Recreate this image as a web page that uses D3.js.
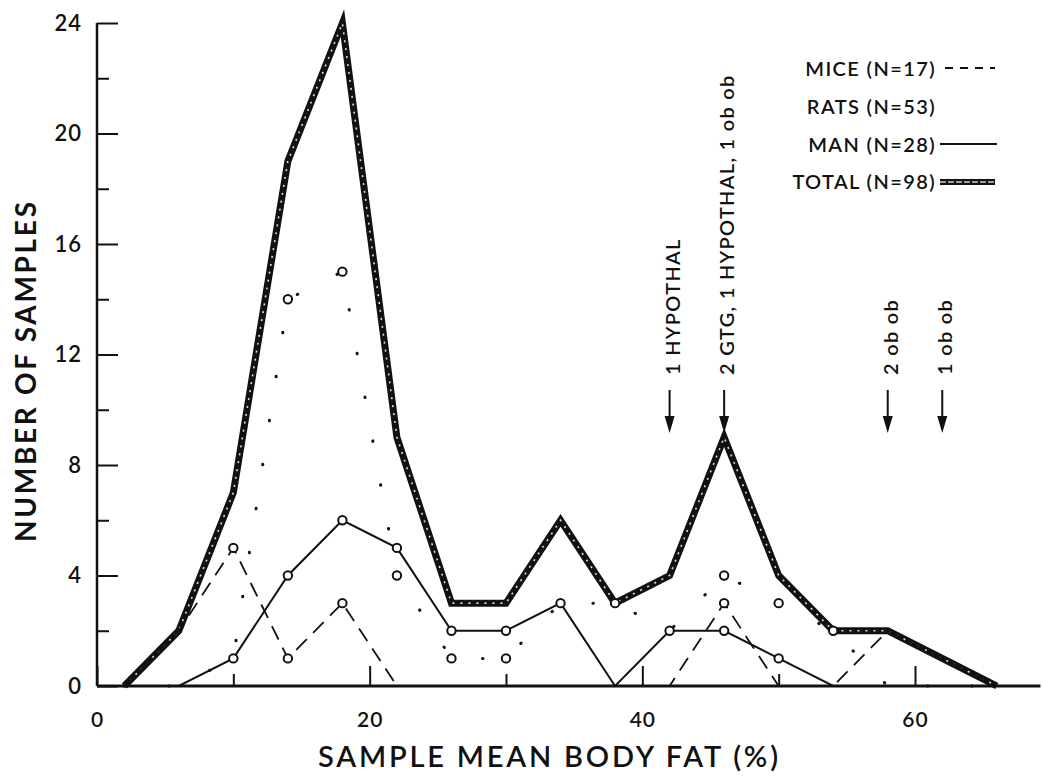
<!DOCTYPE html>
<html>
<head>
<meta charset="utf-8">
<script src="https://cdn.jsdelivr.net/npm/d3@7"></script>
<style>
  html, body { margin: 0; padding: 0; background: #fff; }
  svg { display: block; }
  text { font-family: Lato, "Noto Sans", sans-serif; fill: #111; }
</style>
</head>
<body>
<svg id="chart" width="1043" height="776"></svg>
<script>
// ---- data ----
const bins  = [2, 6, 10, 14, 18, 22, 26, 30, 34, 38, 42, 46, 50, 54, 58, 62, 66];
const mice  = [0, 2, 5, 1, 3, 0, 0, 0, 0, 0, 0, 3, 0, 0, 2, 1, 0];
const rats  = [0, 0, 1, 14, 15, 4, 1, 1, 3, 3, 2, 4, 3, 2, 0, 0, 0];
const man   = [0, 0, 1, 4, 6, 5, 2, 2, 3, 0, 2, 2, 1, 0, 0, 0, 0];
const total = [0, 2, 7, 19, 24, 9, 3, 3, 6, 3, 4, 9, 4, 2, 2, 1, 0];

const xTickValues = [0, 10, 20, 30, 40, 50, 60];
const xTickLabels = [0, 20, 40, 60];
const yTickValues = [0, 2, 4, 6, 8, 10, 12, 14, 16, 18, 20, 22, 24];
const yTickLabels = [0, 4, 8, 12, 16, 20, 24];

const legendLabels = ["MICE (N=17)", "RATS (N=53)", "MAN (N=28)", "TOTAL (N=98)"];
const arrowX = [42, 46, 58, 62];
const arrowLabels = ["1 HYPOTHAL", "2 GTG, 1 HYPOTHAL, 1 ob ob", "2 ob ob", "1 ob ob"];

const xTitle = "SAMPLE MEAN BODY FAT (%)";
const yTitle = "NUMBER OF SAMPLES";
const xAxisEnd = 69.2;

// ---- layout ----
const svg = d3.select("#chart");
const x = d3.scaleLinear().domain([0, 60]).range([97, 915]);
const y = d3.scaleLinear().domain([0, 24]).range([686, 23]);

// ---- axes ----
const yAxis = d3.axisLeft(y)
  .tickValues(yTickValues)
  .tickSizeInner(-20).tickSizeOuter(0).tickPadding(15)
  .tickFormat(d => yTickLabels.includes(d) ? d : "");
const gy = svg.append("g").attr("transform", `translate(${x(0)},0)`).call(yAxis);
gy.select(".domain").remove();
gy.selectAll(".tick line").attr("stroke", "#111").attr("stroke-width", 2)
  .attr("x2", d => yTickLabels.includes(d) ? 21 : 12);
gy.selectAll(".tick text").attr("font-size", 22).attr("font-weight", 600).attr("letter-spacing", 1);

const xAxis = d3.axisBottom(x)
  .tickValues(xTickValues)
  .tickSizeInner(-20).tickSizeOuter(0).tickPadding(26)
  .tickFormat(d => xTickLabels.includes(d) ? d : "");
const gx = svg.append("g").attr("transform", `translate(0,${y(0)})`).call(xAxis);
gx.select(".domain").remove();
gx.selectAll(".tick line").attr("stroke", "#111").attr("stroke-width", 2)
  .attr("y2", d => xTickLabels.includes(d) ? -20 : -12);
gx.selectAll(".tick text").attr("font-size", 21).attr("font-weight", 600).attr("letter-spacing", 1);

// axis lines
svg.append("line").attr("x1", x(0)).attr("x2", x(0)).attr("y1", y(0)).attr("y2", y(24))
  .attr("stroke", "#111").attr("stroke-width", 2.5);
svg.append("line").attr("x1", x(0)).attr("x2", x(xAxisEnd)).attr("y1", y(0)).attr("y2", y(0))
  .attr("stroke", "#111").attr("stroke-width", 3);

// axis titles
svg.append("text").attr("x", 548).attr("y", 767).attr("text-anchor", "middle")
  .attr("font-size", 29).attr("font-weight", 600)
  .attr("textLength", 460).attr("lengthAdjust", "spacing").text(xTitle);
svg.append("text").attr("transform", "translate(36,372) rotate(-90)").attr("text-anchor", "middle")
  .attr("font-size", 28).attr("font-weight", 700)
  .attr("textLength", 340).attr("lengthAdjust", "spacing").text(yTitle);

// ---- series ----
const line = d3.line().x((d, i) => x(bins[i])).y(d => y(d));

// total: thick black with light dotted centre
svg.append("path").datum(total).attr("d", line).attr("fill", "none")
  .attr("stroke", "#111").attr("stroke-width", 7).attr("stroke-linejoin", "miter").attr("stroke-miterlimit", 10);
svg.append("path").datum(total).attr("d", line).attr("fill", "none")
  .attr("stroke", "#ddd").attr("stroke-width", 1.6).attr("stroke-dasharray", "2,6");

// mice dashed
svg.append("path").datum(mice).attr("d", line).attr("fill", "none")
  .attr("stroke", "#111").attr("stroke-width", 1.8).attr("stroke-dasharray", "15,9");
// man solid
svg.append("path").datum(man).attr("d", line).attr("fill", "none")
  .attr("stroke", "#111").attr("stroke-width", 2);
// rats sparse dots
svg.append("path").datum(rats).attr("d", line).attr("fill", "none")
  .attr("stroke", "#111").attr("stroke-width", 3).attr("stroke-linecap", "round")
  .attr("stroke-dasharray", "0.5,44");

// markers
function markers(vals, keep) {
  svg.append("g").selectAll("circle")
    .data(vals.map((v, i) => ({ b: bins[i], v, i })).filter(d => d.v > 0 && keep(d)))
    .join("circle")
    .attr("cx", d => x(d.b)).attr("cy", d => y(d.v)).attr("r", 4.2)
    .attr("fill", "#fff").attr("stroke", "#111").attr("stroke-width", 2);
}
markers(mice, d => d.v < total[d.i]);
markers(man, () => true);
markers(rats, d => d.v !== man[d.i]);

// ---- arrows with annotations ----
const ga = svg.append("g");
arrowX.forEach((a, i) => {
  const ax = x(a);
  ga.append("line").attr("x1", ax).attr("x2", ax).attr("y1", 390).attr("y2", 424)
    .attr("stroke", "#111").attr("stroke-width", 2);
  ga.append("path").attr("d", `M${ax - 5},416 L${ax + 5},416 L${ax},433 Z`).attr("fill", "#111");
  ga.append("text").attr("transform", `translate(${ax + 2},375) rotate(-90)`)
    .attr("dominant-baseline", "central").attr("font-size", 20).attr("font-weight", 600)
    .attr("letter-spacing", 1.3)
    .text(arrowLabels[i]);
});

// ---- legend ----
const lg = svg.append("g");
const legendY = [76, 114, 152, 189];
legendLabels.forEach((t, i) => {
  lg.append("text").attr("x", 936).attr("y", legendY[i]).attr("text-anchor", "end")
    .attr("font-size", 20).attr("font-weight", 600).attr("letter-spacing", 1.4).text(t);
});
lg.append("line").attr("x1", 945).attr("x2", 995).attr("y1", 68).attr("y2", 68)
  .attr("stroke", "#111").attr("stroke-width", 1.8).attr("stroke-dasharray", "8,7");
lg.append("line").attr("x1", 940).attr("x2", 997).attr("y1", 144).attr("y2", 144)
  .attr("stroke", "#111").attr("stroke-width", 2);
lg.append("line").attr("x1", 940).attr("x2", 995).attr("y1", 182).attr("y2", 182)
  .attr("stroke", "#111").attr("stroke-width", 6);
lg.append("line").attr("x1", 940).attr("x2", 995).attr("y1", 182).attr("y2", 182)
  .attr("stroke", "#ccc").attr("stroke-width", 1.5).attr("stroke-dasharray", "6,2");
</script>
</body>
</html>
